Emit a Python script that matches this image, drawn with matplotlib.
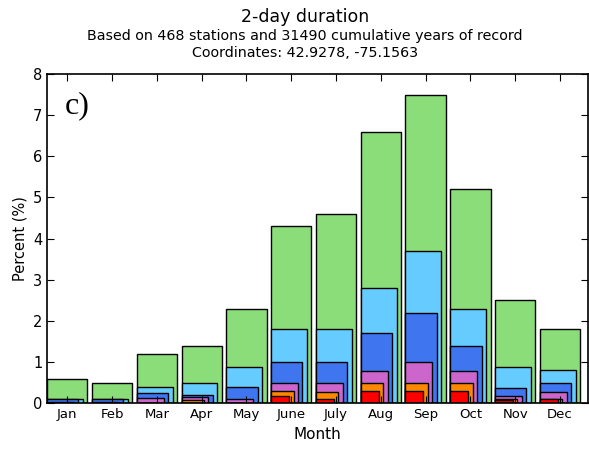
import matplotlib
matplotlib.use("Agg")
import matplotlib.pyplot as plt
import numpy as np

months = ["Jan", "Feb", "Mar", "Apr", "May", "June",
          "July", "Aug", "Sep", "Oct", "Nov", "Dec"]

# percent of events per month, one series per threshold class (widest bar first)
pct_green = [0.6, 0.5, 1.2, 1.4, 2.3, 4.3, 4.6, 6.6, 7.5, 5.2, 2.5, 1.8]
pct_lightblue = [0.1, 0.1, 0.4, 0.48, 0.88, 1.8, 1.8, 2.8, 3.7, 2.3, 0.88, 0.8]
pct_blue = [0.09, 0.09, 0.25, 0.19, 0.39, 1.0, 1.0, 1.7, 2.2, 1.4, 0.38, 0.48]
pct_purple = [0.02, 0.02, 0.13, 0.14, 0.1, 0.5, 0.5, 0.79, 1.0, 0.79, 0.17, 0.27]
pct_orange = [0.0, 0.0, 0.0, 0.08, 0.0, 0.3, 0.28, 0.48, 0.49, 0.49, 0.1, 0.1]
pct_red = [0.0, 0.0, 0.0, 0.0, 0.0, 0.17, 0.1, 0.3, 0.3, 0.3, 0.08, 0.1]

series = [
    (pct_green, "#8add78", 0.9),
    (pct_lightblue, "#66ccff", 0.8),
    (pct_blue, "#3f76f0", 0.7),
    (pct_purple, "#cc66cc", 0.6),
    (pct_orange, "#ff8800", 0.5),
    (pct_red, "#ff0000", 0.4),
]

fig = plt.figure(figsize=(5.89, 4.51), dpi=100)
ax = fig.add_axes([0.08, 0.106, 0.918, 0.73])

x = np.arange(1, len(months) + 1)
left = x - 0.45
for vals, color, width in series:
    ax.bar(left, vals, width=width, align="edge", color=color,
           edgecolor="black", linewidth=1.0)

ax.set_xlim(0.55, 12.62)
ax.set_ylim(0, 8)
ax.set_xticks(x)
ax.set_xticklabels(months, fontsize=9.5)
ax.set_yticks(range(0, 9))
ax.tick_params(axis="y", labelsize=10.5)
ax.tick_params(direction="in", top=True, right=True, length=5, width=0.8)
for sp in ax.spines.values():
    sp.set_linewidth(1.2)

ax.set_xlabel("Month", fontsize=11)
ax.set_ylabel("Percent (%)", fontsize=10.5)

ax.text(0.033, 0.905, "c)", transform=ax.transAxes, fontsize=23,
        family=["Liberation Serif", "DejaVu Serif"], va="center", ha="left")

cx = 0.518
fig.text(cx, 0.963, "2-day duration", ha="center", va="center", fontsize=12.5)
fig.text(cx, 0.92, "Based on 468 stations and 31490 cumulative years of record",
         ha="center", va="center", fontsize=10.3)
fig.text(cx, 0.883, "Coordinates: 42.9278, -75.1563",
         ha="center", va="center", fontsize=10.3)

fig.savefig("out.png", dpi=100)
